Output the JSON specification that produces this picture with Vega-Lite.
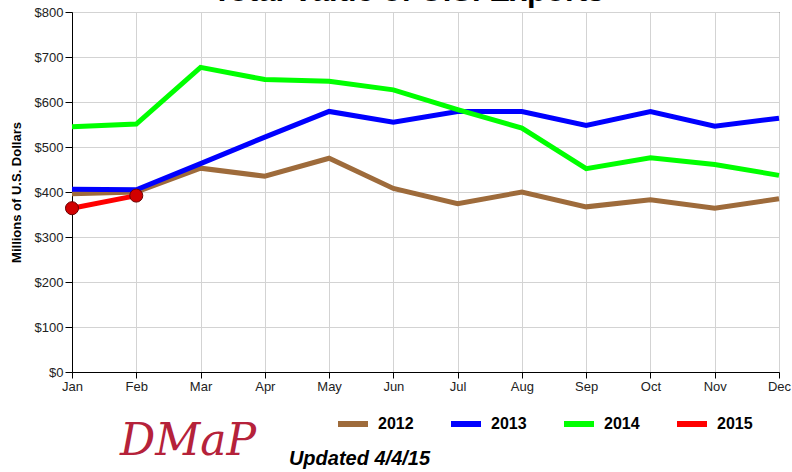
{
  "$schema": "https://vega.github.io/schema/vega-lite/v6.json",
  "width": 707,
  "height": 360,
  "autosize": "none",
  "padding": {"top": 12, "left": 72, "right": 13, "bottom": 100},
  "background": "white",
  "title": {
    "text": "Total Value of U.S. Exports",
    "font": "Liberation Sans",
    "fontSize": 31,
    "fontWeight": "bold",
    "color": "black",
    "anchor": "middle",
    "dx": -17,
    "dy": 26,
    "baseline": "alphabetic",
    "offset": 0
  },
  "config": {
    "view": {"stroke": "black", "strokeWidth": 1},
    "axis": {
      "labelFont": "Liberation Sans",
      "titleFont": "Liberation Sans",
      "gridColor": "#d3d3d3",
      "gridWidth": 1,
      "domainColor": "black",
      "tickColor": "black",
      "labelColor": "#222"
    }
  },
  "data": {
    "values": [
      {"month": "Jan", "year": "2012", "value": 396},
      {"month": "Feb", "year": "2012", "value": 400},
      {"month": "Mar", "year": "2012", "value": 453},
      {"month": "Apr", "year": "2012", "value": 435},
      {"month": "May", "year": "2012", "value": 475},
      {"month": "Jun", "year": "2012", "value": 408},
      {"month": "Jul", "year": "2012", "value": 374},
      {"month": "Aug", "year": "2012", "value": 400},
      {"month": "Sep", "year": "2012", "value": 367},
      {"month": "Oct", "year": "2012", "value": 383},
      {"month": "Nov", "year": "2012", "value": 364},
      {"month": "Dec", "year": "2012", "value": 385},
      {"month": "Jan", "year": "2013", "value": 406},
      {"month": "Feb", "year": "2013", "value": 405},
      {"month": "Mar", "year": "2013", "value": 463},
      {"month": "Apr", "year": "2013", "value": 522},
      {"month": "May", "year": "2013", "value": 579},
      {"month": "Jun", "year": "2013", "value": 555},
      {"month": "Jul", "year": "2013", "value": 579},
      {"month": "Aug", "year": "2013", "value": 579},
      {"month": "Sep", "year": "2013", "value": 548},
      {"month": "Oct", "year": "2013", "value": 579},
      {"month": "Nov", "year": "2013", "value": 546},
      {"month": "Dec", "year": "2013", "value": 564},
      {"month": "Jan", "year": "2014", "value": 545},
      {"month": "Feb", "year": "2014", "value": 551},
      {"month": "Mar", "year": "2014", "value": 677},
      {"month": "Apr", "year": "2014", "value": 650},
      {"month": "May", "year": "2014", "value": 646},
      {"month": "Jun", "year": "2014", "value": 627},
      {"month": "Jul", "year": "2014", "value": 583},
      {"month": "Aug", "year": "2014", "value": 542},
      {"month": "Sep", "year": "2014", "value": 452},
      {"month": "Oct", "year": "2014", "value": 476},
      {"month": "Nov", "year": "2014", "value": 461},
      {"month": "Dec", "year": "2014", "value": 437},
      {"month": "Jan", "year": "2015", "value": 364},
      {"month": "Feb", "year": "2015", "value": 392}
    ]
  },
  "encoding": {
    "x": {
      "field": "month",
      "type": "ordinal",
      "sort": ["Jan","Feb","Mar","Apr","May","Jun","Jul","Aug","Sep","Oct","Nov","Dec"],
      "scale": {"type": "point", "padding": 0},
      "axis": {
        "labelAngle": 0,
        "grid": true,
        "tickSize": 6,
        "labelFontSize": 13,
        "labelPadding": 2,
        "title": "Updated 4/4/15",
        "titleFont": "Liberation Sans",
        "titleFontSize": 20,
        "titleFontWeight": "bold",
        "titleFontStyle": "italic",
        "titleColor": "black",
        "titleX": 287,
        "titleY": 92,
        "titleAlign": "center",
        "titleBaseline": "alphabetic"
      }
    },
    "y": {
      "field": "value",
      "type": "quantitative",
      "scale": {"domain": [0, 800]},
      "axis": {
        "values": [0, 100, 200, 300, 400, 500, 600, 700, 800],
        "format": "$d",
        "grid": true,
        "tickSize": 7,
        "labelFontSize": 13,
        "labelPadding": 2,
        "title": "Millions of U.S. Dollars",
        "titleFontSize": 13,
        "titleFontWeight": "bold",
        "titleColor": "black",
        "titleX": -56,
        "titleY": 180,
        "titleAlign": "center",
        "titleBaseline": "middle"
      }
    }
  },
  "layer": [
    {
      "mark": {"type": "line", "strokeWidth": 5, "strokeJoin": "miter"},
      "encoding": {
        "color": {
          "field": "year",
          "type": "nominal",
          "scale": {"domain": ["2012","2013","2014","2015"], "range": ["#9e6b3b","#0000ff","#00ff00","#ff0000"]},
          "legend": {
            "orient": "none",
            "legendX": 48,
            "legendY": 394,
            "direction": "horizontal",
            "title": "DMaP",
            "titleOrient": "left",
            "titleBaseline": "line-top",
            "titleLineHeight": 42,
            "titleFont": "DejaVu Serif",
            "titleFontStyle": "italic",
            "titleFontWeight": "normal",
            "titleFontSize": 44,
            "titleColor": "#b5223a",
            "titlePadding": 78,
            "symbolType": "stroke",
            "symbolSize": 900,
            "symbolStrokeWidth": 6,
            "labelFont": "Liberation Sans",
            "labelFontWeight": "bold",
            "labelFontSize": 16,
            "labelColor": "black",
            "labelOffset": 7,
            "columnPadding": 25
          }
        }
      }
    },
    {
      "transform": [{"filter": "datum.year === '2015'"}],
      "mark": {"type": "point", "filled": true, "size": 170, "fill": "#d10000", "stroke": "#6a0000", "strokeWidth": 1, "opacity": 1}
    }
  ]
}
